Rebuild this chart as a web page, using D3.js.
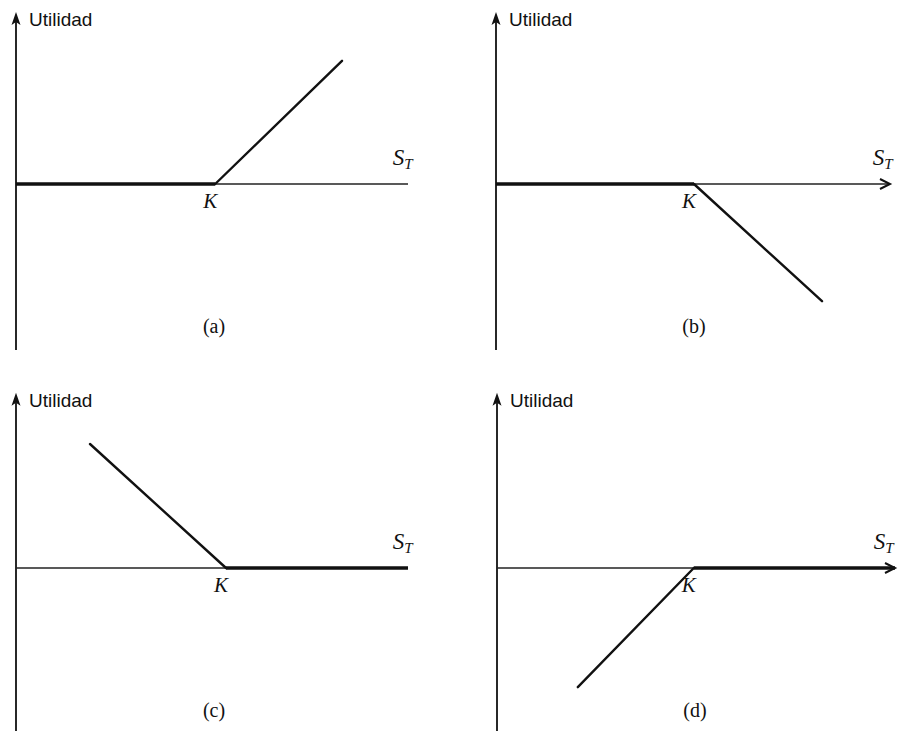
<!DOCTYPE html>
<html>
<head>
<meta charset="utf-8">
<script src="https://cdn.jsdelivr.net/npm/d3@7"></script>
<style>
  body { margin: 0; background: #fff; }
  svg { display: block; }
</style>
</head>
<body>
<div id="chart"></div>
<script>
// payoff diagrams, one entry per panel
const panelLabels = ["(a)", "(b)", "(c)", "(d)"];
const strikes = [4.98, 4.95, 5.25, 4.92];
// thick flat leg [from, to] along the axis
const flatLegs = [[0, 4.98], [0, 4.95], [5.25, 9.8], [4.92, 9.95]];
// free end of the sloped leg [S_T, payoff]
const slopeEnds = [[8.15, 3.08], [8.15, -2.93], [1.85, 3.1], [2.02, -2.98]];
// x axis extent and whether it ends in an arrow
const axisEnds = [9.8, 9.85, 9.8, 9.95];
const axisArrow = [false, true, false, true];
// y axis extent [bottom, top]
const yExtents = [[-4.15, 4.3], [-4.15, 4.3], [-4.08, 4.38], [-4.08, 4.38]];

const width = 898, height = 731;
const unit = 40;
const origins = [[16, 184], [496, 184], [16, 568], [497, 568]];

const svg = d3.select("#chart").append("svg")
  .attr("width", width)
  .attr("height", height);

panelLabels.forEach((label, i) => {
  const [ox, oy] = origins[i];
  const x = d3.scaleLinear().domain([0, 1]).range([ox, ox + unit]);
  const y = d3.scaleLinear().domain([0, 1]).range([oy, oy - unit]);
  const g = svg.append("g");

  // y axis with filled arrow head
  g.append("line")
    .attr("x1", x(0)).attr("x2", x(0))
    .attr("y1", Math.min(y(yExtents[i][0]), height + 2))
    .attr("y2", y(yExtents[i][1]) + 10)
    .attr("stroke", "#111").attr("stroke-width", 1.8);
  g.append("path")
    .attr("d", `M${x(0)},${y(yExtents[i][1])} l4.5,13 l-4.5,-3 l-4.5,3 Z`)
    .attr("fill", "#111");

  // x axis
  g.append("line")
    .attr("x1", x(0)).attr("x2", x(axisEnds[i]))
    .attr("y1", y(0)).attr("y2", y(0))
    .attr("stroke", "#222").attr("stroke-width", 1.3);
  if (axisArrow[i]) {
    const tx = x(axisEnds[i]);
    g.append("path")
      .attr("d", `M${tx - 10},${y(0) - 5} L${tx},${y(0)} L${tx - 10},${y(0) + 5}`)
      .attr("fill", "none").attr("stroke", "#111").attr("stroke-width", 2);
  }

  // thick flat leg
  g.append("line")
    .attr("x1", x(flatLegs[i][0])).attr("x2", x(flatLegs[i][1]))
    .attr("y1", y(0)).attr("y2", y(0))
    .attr("stroke", "#111").attr("stroke-width", 3.4);

  // sloped leg
  g.append("line")
    .attr("x1", x(strikes[i])).attr("y1", y(0))
    .attr("x2", x(slopeEnds[i][0])).attr("y2", y(slopeEnds[i][1]))
    .attr("stroke", "#111").attr("stroke-width", 2.4)
    .attr("stroke-linecap", "round");

  // texts
  g.append("text")
    .attr("x", x(0) + 13).attr("y", y(yExtents[i][1]) + 14)
    .attr("font-family", "Liberation Sans, Arial, sans-serif")
    .attr("font-size", 19).attr("fill", "#111")
    .text("Utilidad");

  const st = g.append("text")
    .attr("x", x(9.42)).attr("y", y(0) - 19)
    .attr("font-family", "Liberation Serif, Times New Roman, serif")
    .attr("font-style", "italic").attr("font-size", 23).attr("fill", "#111");
  st.append("tspan").text("S");
  st.append("tspan").attr("dy", 4).attr("font-size", 15).text("T");

  g.append("text")
    .attr("x", x(strikes[i]) - 5).attr("y", y(0) + 24)
    .attr("text-anchor", "middle")
    .attr("font-family", "Liberation Serif, Times New Roman, serif")
    .attr("font-style", "italic").attr("font-size", 21).attr("fill", "#111")
    .text("K");

  g.append("text")
    .attr("x", x(4.95)).attr("y", y(-3.72))
    .attr("text-anchor", "middle")
    .attr("font-family", "Liberation Serif, Times New Roman, serif")
    .attr("font-size", 20).attr("fill", "#111")
    .text(label);
});
</script>
</body>
</html>
